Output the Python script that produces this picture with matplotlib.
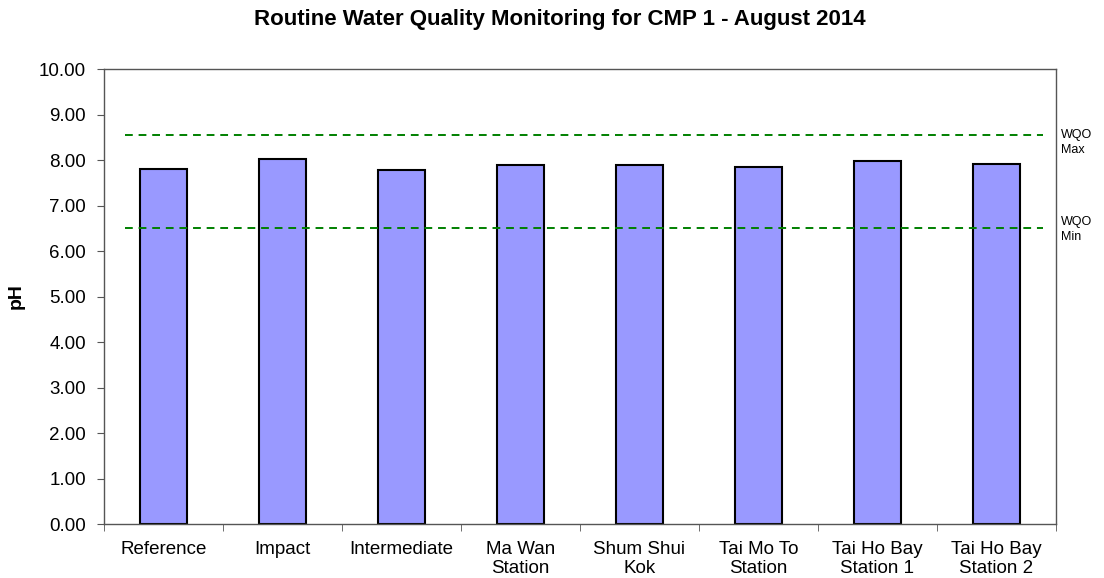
import matplotlib
matplotlib.use("Agg")
import matplotlib.pyplot as plt
import numpy as np

plt.rcParams['font.family'] = ['Liberation Sans', 'DejaVu Sans']

# data
stations = ['Reference', 'Impact', 'Intermediate', 'Ma Wan\nStation', 'Shum Shui\nKok',
            'Tai Mo To\nStation', 'Tai Ho Bay\nStation 1', 'Tai Ho Bay\nStation 2']
ph_values = [7.80, 8.02, 7.78, 7.90, 7.90, 7.84, 7.97, 7.91]
wqo_max = 8.56
wqo_min = 6.5

fig = plt.figure(figsize=(11.04, 5.78), dpi=100)
ax = fig.add_axes([0.0942, 0.0934, 0.8623, 0.7872])

x = np.arange(len(stations))
ax.bar(x, ph_values, width=0.4, color='#9999FF', edgecolor='black', linewidth=1.5, zorder=2)

# WQO limit lines
line_x = [-0.32, len(stations) - 0.61]
ax.plot(line_x, [wqo_max, wqo_max], color='#008000', linestyle=(0, (4, 3)), linewidth=1.4, zorder=3)
ax.plot(line_x, [wqo_min, wqo_min], color='#008000', linestyle=(0, (4, 3)), linewidth=1.4, zorder=3)
ax.text(1.005, wqo_max - 0.18, 'WQO\nMax', transform=ax.get_yaxis_transform(), fontsize=9,
        va='center', ha='left', linespacing=1.3)
ax.text(1.005, wqo_min - 0.02, 'WQO\nMin', transform=ax.get_yaxis_transform(), fontsize=9,
        va='center', ha='left', linespacing=1.3)

ax.set_xlim(-0.5, len(stations) - 0.5)
ax.set_ylim(0, 10)
ax.set_yticks(np.arange(0, 10.01, 1))
ax.set_yticklabels([f'{v:.2f}' for v in np.arange(0, 10.01, 1)], fontsize=13.5)
ax.set_xticks(x)
ax.set_xticklabels(stations, fontsize=13.5, linespacing=1.2)
ax.set_xticks(np.arange(-0.5, len(stations), 1), minor=True)
ax.tick_params(axis='x', which='major', length=0, pad=12)
ax.tick_params(axis='x', which='minor', length=5, direction='out', color='#555555')
ax.tick_params(axis='y', length=5, direction='out', color='#555555', pad=8)
for s in ax.spines.values():
    s.set_color('#555555')
    s.set_linewidth(1)

ax.set_ylabel('pH', fontsize=14, fontweight='bold', labelpad=10)
fig.suptitle('Routine Water Quality Monitoring for CMP 1 - August 2014', fontsize=16,
             fontweight='bold', x=0.507, y=0.985)

fig.savefig('out.png', dpi=100)
